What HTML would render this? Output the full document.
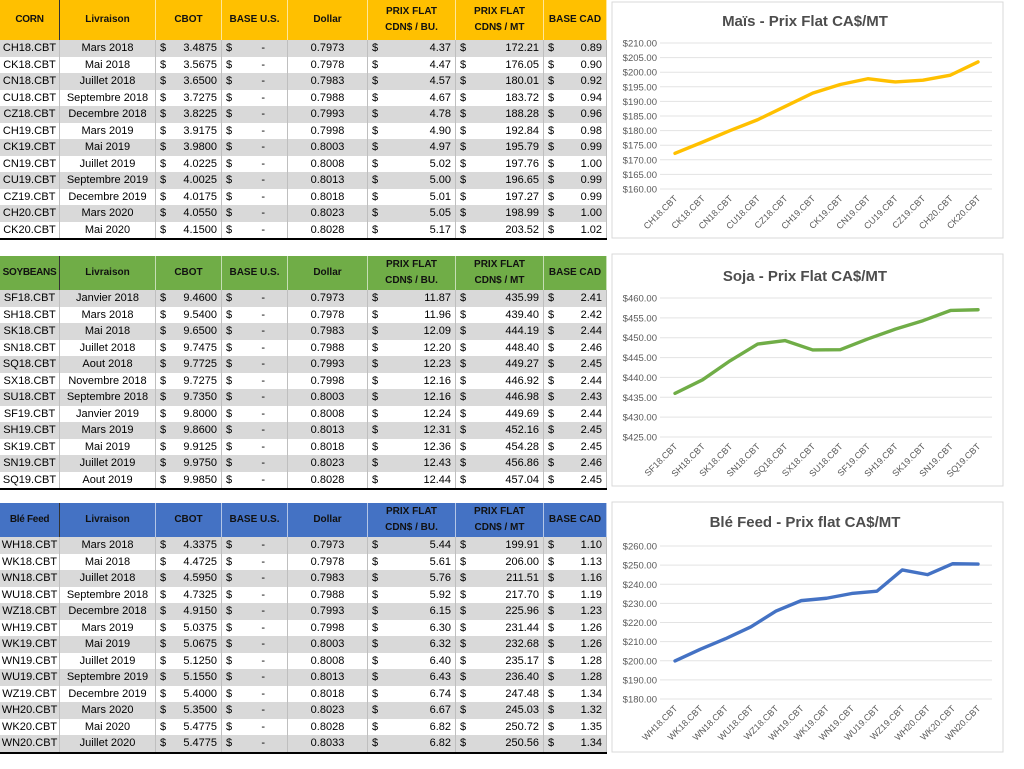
<!DOCTYPE html>
<html><head><meta charset="utf-8">
<style>
body{margin:0;width:1024px;height:769px;background:#fff;position:relative;overflow:hidden;font-family:"Liberation Sans",sans-serif;}
.tbl{position:absolute;left:0;width:607px;font-size:11px;color:#000;}
.hdr{position:absolute;left:0;width:607px;border-bottom:1.5px solid #000;}
.hc{position:absolute;top:0;height:100%;display:flex;align-items:center;justify-content:center;text-align:center;font-weight:bold;font-size:10px;border-right:1px solid rgba(255,255,255,0.6);box-sizing:border-box;line-height:16px;color:#111;}
.row{position:absolute;left:0;width:607px;height:16.5px;}
.c{position:absolute;top:0;height:16.5px;line-height:16.5px;box-sizing:border-box;border-right:1px solid #bfbfbf;white-space:nowrap;}
.ctr{text-align:center;}
.ds{position:absolute;left:4px;}
.dv{position:absolute;right:4px;}
</style></head><body>
<div id="tables"></div>
<svg id="charts" width="1024" height="769" style="position:absolute;left:0;top:0;pointer-events:none"></svg>
<script>
const cornCodes=["CH18.CBT","CK18.CBT","CN18.CBT","CU18.CBT","CZ18.CBT","CH19.CBT","CK19.CBT","CN19.CBT","CU19.CBT","CZ19.CBT","CH20.CBT","CK20.CBT"];
const cornMonths=["Mars 2018","Mai 2018","Juillet 2018","Septembre 2018","Decembre 2018","Mars 2019","Mai 2019","Juillet 2019","Septembre 2019","Decembre 2019","Mars 2020","Mai 2020"];
const cornCbot=["3.4875","3.5675","3.6500","3.7275","3.8225","3.9175","3.9800","4.0225","4.0025","4.0175","4.0550","4.1500"];
const cornDollar=["0.7973","0.7978","0.7983","0.7988","0.7993","0.7998","0.8003","0.8008","0.8013","0.8018","0.8023","0.8028"];
const cornBu=["4.37","4.47","4.57","4.67","4.78","4.90","4.97","5.02","5.00","5.01","5.05","5.17"];
const cornMt=[172.21,176.05,180.01,183.72,188.28,192.84,195.79,197.76,196.65,197.27,198.99,203.52];
const cornBase=["0.89","0.90","0.92","0.94","0.96","0.98","0.99","1.00","0.99","0.99","1.00","1.02"];

const soyCodes=["SF18.CBT","SH18.CBT","SK18.CBT","SN18.CBT","SQ18.CBT","SX18.CBT","SU18.CBT","SF19.CBT","SH19.CBT","SK19.CBT","SN19.CBT","SQ19.CBT"];
const soyMonths=["Janvier 2018","Mars 2018","Mai 2018","Juillet 2018","Aout 2018","Novembre 2018","Septembre 2018","Janvier 2019","Mars 2019","Mai 2019","Juillet 2019","Aout 2019"];
const soyCbot=["9.4600","9.5400","9.6500","9.7475","9.7725","9.7275","9.7350","9.8000","9.8600","9.9125","9.9750","9.9850"];
const soyDollar=["0.7973","0.7978","0.7983","0.7988","0.7993","0.7998","0.8003","0.8008","0.8013","0.8018","0.8023","0.8028"];
const soyBu=["11.87","11.96","12.09","12.20","12.23","12.16","12.16","12.24","12.31","12.36","12.43","12.44"];
const soyMt=[435.99,439.40,444.19,448.40,449.27,446.92,446.98,449.69,452.16,454.28,456.86,457.04];
const soyBase=["2.41","2.42","2.44","2.46","2.45","2.44","2.43","2.44","2.45","2.45","2.46","2.45"];

const wheatCodes=["WH18.CBT","WK18.CBT","WN18.CBT","WU18.CBT","WZ18.CBT","WH19.CBT","WK19.CBT","WN19.CBT","WU19.CBT","WZ19.CBT","WH20.CBT","WK20.CBT","WN20.CBT"];
const wheatMonths=["Mars 2018","Mai 2018","Juillet 2018","Septembre 2018","Decembre 2018","Mars 2019","Mai 2019","Juillet 2019","Septembre 2019","Decembre 2019","Mars 2020","Mai 2020","Juillet 2020"];
const wheatCbot=["4.3375","4.4725","4.5950","4.7325","4.9150","5.0375","5.0675","5.1250","5.1550","5.4000","5.3500","5.4775","5.4775"];
const wheatDollar=["0.7973","0.7978","0.7983","0.7988","0.7993","0.7998","0.8003","0.8008","0.8013","0.8018","0.8023","0.8028","0.8033"];
const wheatBu=["5.44","5.61","5.76","5.92","6.15","6.30","6.32","6.40","6.43","6.74","6.67","6.82","6.82"];
const wheatMt=[199.91,206.00,211.51,217.70,225.96,231.44,232.68,235.17,236.40,247.48,245.03,250.72,250.56];
const wheatBase=["1.10","1.13","1.16","1.19","1.23","1.26","1.26","1.28","1.28","1.34","1.32","1.35","1.34"];

const cornTicks=["$160.00","$165.00","$170.00","$175.00","$180.00","$185.00","$190.00","$195.00","$200.00","$205.00","$210.00"];
const soyTicks=["$425.00","$430.00","$435.00","$440.00","$445.00","$450.00","$455.00","$460.00"];
const wheatTicks=["$180.00","$190.00","$200.00","$210.00","$220.00","$230.00","$240.00","$250.00","$260.00"];

const colX=[0,60,156,222,288,368,456,544,607];
const NS="http://www.w3.org/2000/svg";
const root=document.getElementById('tables');

function buildTable(name,title,color,top,hh,codes,months,cbot,dollar,bu,mt,base){
  const t=document.createElement('div');t.className='tbl';t.style.top=top+'px';
  
  
  const h=document.createElement('div');h.className='hdr';h.style.top='0px';h.style.height=hh+'px';h.style.background=color;
  
  
  const heads=[title,"Livraison","CBOT","BASE U.S.","Dollar","PRIX FLAT<br>CDN$ / BU.","PRIX FLAT<br>CDN$ / MT","BASE CAD"];
  heads.forEach((x,i)=>{const d=document.createElement('div');d.className='hc';d.style.left=colX[i]+'px';d.style.width=(colX[i+1]-colX[i])+'px';d.innerHTML=x;
    if(i==0){d.style.borderRight='1px solid #333';d.style.letterSpacing='-0.3px';}
    
    
    h.appendChild(d);});
  t.appendChild(h);
  for(let r=0;r<codes.length;r++){
    const row=document.createElement('div');row.className='row';row.style.top=(hh+r*16.5)+'px';
    row.style.background=(r%2==0)?'#d9d9d9':'#fff';
    if(r==codes.length-1)row.style.borderBottom='2px solid #000';
    
    
    const vals=[[codes[r]],[months[r]],['$',cbot[r]],['$','-'],[dollar[r]],['$',bu[r]],['$',mt[r].toFixed(2)],['$',base[r]]];
    vals.forEach((v,i)=>{const c=document.createElement('div');c.className='c';c.style.left=colX[i]+'px';c.style.width=(colX[i+1]-colX[i])+'px';
      if(v.length==1){c.classList.add('ctr');c.textContent=v[0];}
      else{c.innerHTML='<span class="ds">$</span><span class="dv"'+(v[1]=='-'?' style="right:22px"':'')+'>'+v[1]+'</span>';}
      
      
      row.appendChild(c);});
    t.appendChild(row);
  }
  root.appendChild(t);
}
buildTable('corn','CORN','#ffc000',0,40,cornCodes,cornMonths,cornCbot,cornDollar,cornBu,cornMt,cornBase);
buildTable('soybeans','SOYBEANS','#70ad47',256,34,soyCodes,soyMonths,soyCbot,soyDollar,soyBu,soyMt,soyBase);
buildTable('wheat','Blé Feed','#4472c4',503,34,wheatCodes,wheatMonths,wheatCbot,wheatDollar,wheatBu,wheatMt,wheatBase);

const svg=document.getElementById('charts');
function el(tag,attrs,parent){const e=document.createElementNS(NS,tag);for(const k in attrs)e.setAttribute(k,attrs[k]);(parent||svg).appendChild(e);return e;}
function chart(name,title,color,pTop,pBot,titleY,yTop,yBot,ticks,cats,vals){
  const g=el('g',{});
  
  
  const bg=el('rect',{x:612,y:pTop,width:391,height:pBot-pTop,fill:'#fff',stroke:'#d9d9d9'},g);
  
  
  const tt=el('text',{x:805,y:titleY,'text-anchor':'middle','font-size':'15','font-weight':'bold',fill:'#4d4d4d','font-family':'Liberation Sans'},g);
  tt.textContent=title;
  
  
  const tmin=parseFloat(ticks[0].slice(1)),tmax=parseFloat(ticks[ticks.length-1].slice(1));
  const ys=v=>yBot-(v-tmin)/(tmax-tmin)*(yBot-yTop);
  const x0=675,x1=978;
  const xs=i=>x0+i*(x1-x0)/(cats.length-1);
  ticks.forEach(tk=>{const v=parseFloat(tk.slice(1));const y=ys(v);
    const l=el('line',{x1:660,x2:992,y1:y,y2:y,stroke:'#e3e3e3','stroke-width':1},g);
    
    
    const t=el('text',{x:657,y:y+3.5,'text-anchor':'end','font-size':'9.5',fill:'#595959'},g);t.textContent=tk;
    
    
  });
  cats.forEach((c,i)=>{const x=xs(i);
    const t=el('text',{x:x+3,y:yBot+10,'text-anchor':'end','font-size':'9',fill:'#595959',transform:'rotate(-45 '+(x+3)+' '+(yBot+10)+')'},g);t.textContent=c;
    
    
  });
  const p=el('polyline',{points:vals.map((v,i)=>xs(i)+','+ys(v)).join(' '),fill:'none',stroke:color,'stroke-width':3.4,'stroke-linejoin':'round','stroke-linecap':'round'},g);
  
  
}
chart('corn','Maïs - Prix Flat CA$/MT','#ffc000',2,238,26,43,189,cornTicks,cornCodes,cornMt);
chart('soy','Soja - Prix Flat CA$/MT','#70ad47',254,486,281,298,437,soyTicks,soyCodes,soyMt);
chart('wheat','Blé Feed - Prix flat CA$/MT','#4472c4',502,752,527,546,699,wheatTicks,wheatCodes,wheatMt);
</script>
</body></html>
